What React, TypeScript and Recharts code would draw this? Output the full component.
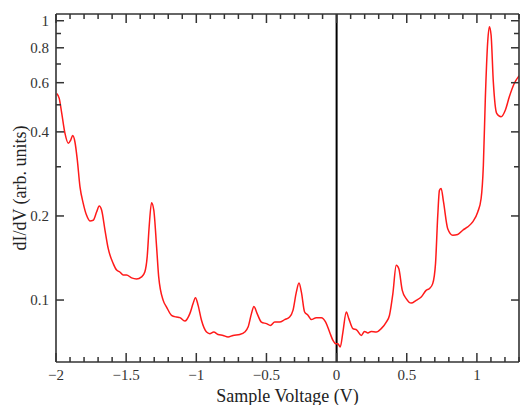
import { LineChart, Line, XAxis, YAxis, ReferenceLine } from 'recharts';

const voltage = [
  -1.995, -1.977, -1.959, -1.936, -1.912, -1.895, -1.881, -1.865, -1.848, -1.829,
  -1.806, -1.782, -1.758, -1.735, -1.71, -1.692, -1.675, -1.651, -1.628, -1.592,
  -1.568, -1.545, -1.521, -1.497, -1.461, -1.426, -1.39, -1.367, -1.35, -1.336,
  -1.319, -1.303, -1.283, -1.268, -1.236, -1.212, -1.177, -1.141, -1.117, -1.082,
  -1.046, -1.023, -1.006, -0.987, -0.963, -0.927, -0.904, -0.876, -0.845, -0.809,
  -0.774, -0.738, -0.69, -0.655, -0.631, -0.607, -0.589, -0.567, -0.536, -0.5,
  -0.472, -0.441, -0.406, -0.37, -0.335, -0.311, -0.287, -0.268, -0.251, -0.228,
  -0.204, -0.18, -0.145, -0.109, -0.078, -0.05, -0.026, -0.007, 0.009, 0.026,
  0.045, 0.069, 0.087, 0.116, 0.144, 0.176, 0.199, 0.223, 0.247, 0.283,
  0.318, 0.354, 0.377, 0.401, 0.425, 0.443, 0.468, 0.496, 0.532, 0.567,
  0.603, 0.638, 0.662, 0.685, 0.705, 0.721, 0.733, 0.745, 0.762, 0.792,
  0.828, 0.863, 0.899, 0.934, 0.97, 1.006, 1.03, 1.046, 1.06, 1.077,
  1.089, 1.101, 1.117, 1.141, 1.172, 1.203, 1.231, 1.267, 1.3,
];

const dIdV = [
  0.549, 0.527, 0.466, 0.395, 0.364, 0.374, 0.388, 0.368, 0.317, 0.254,
  0.222, 0.201, 0.192, 0.193, 0.207, 0.217, 0.21, 0.178, 0.153, 0.135,
  0.128, 0.126, 0.123, 0.123, 0.12, 0.119, 0.121, 0.126, 0.143, 0.183,
  0.223, 0.21, 0.155, 0.121, 0.0997, 0.0944, 0.0882, 0.0869, 0.0865, 0.0841,
  0.0894, 0.0971, 0.102, 0.0957, 0.0846, 0.0768, 0.0758, 0.0768, 0.0753, 0.0747,
  0.0737, 0.0747, 0.0753, 0.0768, 0.08, 0.0894, 0.0949, 0.0896, 0.0834, 0.0823,
  0.0811, 0.0834, 0.0834, 0.0851, 0.0869, 0.0918, 0.1068, 0.115, 0.1068, 0.0906,
  0.0882, 0.0851, 0.0865, 0.0865, 0.0834, 0.0768, 0.0717, 0.0698, 0.0698, 0.0679,
  0.0768, 0.0906, 0.0858, 0.079, 0.0781, 0.0747, 0.0772, 0.0762, 0.0772, 0.0768,
  0.079, 0.0834, 0.0882, 0.1054, 0.1331, 0.1296, 0.1083, 0.1012, 0.0975, 0.0997,
  0.1025, 0.1083, 0.1099, 0.1145, 0.135, 0.201, 0.247, 0.251, 0.2245, 0.18,
  0.1705, 0.1716, 0.1778, 0.1827, 0.1904, 0.2067, 0.2309, 0.304, 0.527, 0.841,
  0.952, 0.889, 0.604, 0.466, 0.453, 0.479, 0.534, 0.597, 0.635,
];

const xTicks = [
  -2, -1.9, -1.8, -1.7, -1.6, -1.5, -1.4, -1.3, -1.2, -1.1, -1, -0.9, -0.8, -0.7, -0.6, -0.5,
  -0.4, -0.3, -0.2, -0.1, 0, 0.1, 0.2, 0.3, 0.4, 0.5, 0.6, 0.7, 0.8, 0.9, 1, 1.1, 1.2, 1.3,
];
const xLabels = [-2, -1.5, -1, -0.5, 0, 0.5, 1];
const yTicks = [0.1, 0.2, 0.3, 0.4, 0.5, 0.6, 0.7, 0.8, 0.9, 1];
const yLabels = [0.1, 0.2, 0.4, 0.6, 0.8, 1];

const data = voltage.map((v, i) => ({ v, g: dIdV[i] }));

const FONT = '"Liberation Serif", "DejaVu Serif", serif';
const AXIS = '#333';

const has = (list: number[], v: number) => list.some((t) => Math.abs(t - v) < 1e-6);
const fmt = (v: number) => (v < 0 ? '\u2212' + String(-v) : String(v));

const BottomTick = (props: any) => {
  const { x, y, payload } = props;
  const major = has(xLabels, payload.value);
  return (
    <g>
      <line x1={x} y1={y} x2={x} y2={y - (major ? 9 : 5)} stroke={AXIS} strokeWidth={1.5} />
      {major && (
        <text x={x} y={y + 18} textAnchor="middle" fontFamily={FONT} fontSize={15} fill="#333">
          {fmt(payload.value)}
        </text>
      )}
    </g>
  );
};

const TopTick = (props: any) => {
  const { x, y, payload } = props;
  const major = has(xLabels, payload.value);
  return <line x1={x} y1={y} x2={x} y2={y + (major ? 9 : 5)} stroke={AXIS} strokeWidth={1.5} />;
};

const LeftTick = (props: any) => {
  const { x, y, payload } = props;
  const major = has(yLabels, payload.value);
  return (
    <g>
      <line x1={x} y1={y} x2={x + (major ? 8 : 5)} y2={y} stroke={AXIS} strokeWidth={1.5} />
      {major && (
        <text x={x - 7} y={y + 5} textAnchor="end" fontFamily={FONT} fontSize={15} fill="#333">
          {payload.value}
        </text>
      )}
    </g>
  );
};

const RightTick = (props: any) => {
  const { x, y, payload } = props;
  const major = has(yLabels, payload.value);
  return <line x1={x} y1={y} x2={x - (major ? 8 : 5)} y2={y} stroke={AXIS} strokeWidth={1.5} />;
};

const XTitle = (props: any) => {
  const vb = props.viewBox;
  return (
    <text x={vb.x + vb.width / 2} y={vb.y + 40} textAnchor="middle" fontFamily={FONT} fontSize={18} fill="#222">
      Sample Voltage (V)
    </text>
  );
};

const YTitle = (props: any) => {
  const vb = props.viewBox;
  const cx = vb.x + 26;
  const cy = vb.y + vb.height / 2;
  return (
    <text
      x={cx}
      y={cy}
      textAnchor="middle"
      transform={`rotate(-90 ${cx} ${cy})`}
      fontFamily={FONT}
      fontSize={18}
      fill="#222"
    >
      dI/dV (arb. units)
    </text>
  );
};

export default function App() {
  return (
    <div style={{ position: 'absolute', left: 0, top: 0, background: '#fff' }}>
      <LineChart width={520} height={405} data={data} margin={{ top: 13, right: 0, bottom: 0, left: 0 }}>
        <XAxis
          dataKey="v"
          type="number"
          domain={[-2, 1.3]}
          allowDataOverflow
          ticks={xTicks}
          interval={0}
          height={43}
          tickSize={0}
          tickMargin={0}
          tickLine={false}
          tick={<BottomTick />}
          axisLine={{ stroke: AXIS, strokeWidth: 1.6 }}
          label={<XTitle />}
        />
        <XAxis
          xAxisId="top"
          orientation="top"
          dataKey="v"
          type="number"
          domain={[-2, 1.3]}
          allowDataOverflow
          ticks={xTicks}
          interval={0}
          height={1}
          tickSize={0}
          tickMargin={0}
          tickLine={false}
          tick={<TopTick />}
          axisLine={{ stroke: AXIS, strokeWidth: 1.6 }}
        />
        <YAxis
          scale="log"
          type="number"
          domain={[0.06, 1.057]}
          allowDataOverflow
          ticks={yTicks}
          interval={0}
          width={56}
          tickSize={0}
          tickMargin={0}
          tickLine={false}
          tick={<LeftTick />}
          axisLine={{ stroke: AXIS, strokeWidth: 1.6 }}
          label={<YTitle />}
        />
        <YAxis
          yAxisId="right"
          orientation="right"
          scale="log"
          type="number"
          domain={[0.06, 1.057]}
          allowDataOverflow
          ticks={yTicks}
          interval={0}
          width={1}
          tickSize={0}
          tickMargin={0}
          tickLine={false}
          tick={<RightTick />}
          axisLine={{ stroke: AXIS, strokeWidth: 1.6 }}
        />
        <ReferenceLine x={0} stroke="#000" strokeWidth={2} />
        <Line
          type="monotone"
          dataKey="g"
          stroke="#ff1a1a"
          strokeWidth={1.5}
          dot={false}
          activeDot={false}
          isAnimationActive={false}
        />
        <Line
          xAxisId="top"
          yAxisId="right"
          type="monotone"
          dataKey="g"
          stroke="none"
          dot={false}
          activeDot={false}
          legendType="none"
          isAnimationActive={false}
        />
      </LineChart>
    </div>
  );
}
